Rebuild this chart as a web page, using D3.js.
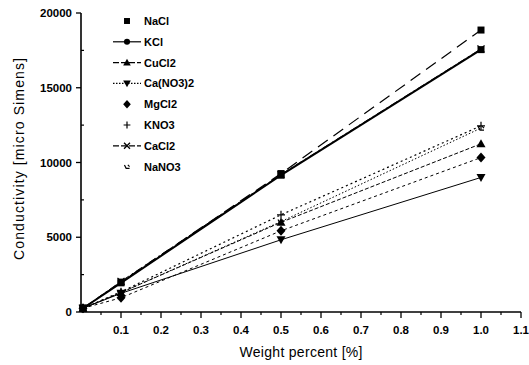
<!DOCTYPE html>
<html><head><meta charset="utf-8">
<script src="https://cdn.jsdelivr.net/npm/d3@7"></script>
<style>body{margin:0;background:#fff}svg{display:block}text{font-family:"Liberation Sans",Arial,sans-serif;fill:#000}</style>
</head><body><svg id="c" width="529" height="365"></svg>
<script>
const weights = [0.005, 0.1, 0.5, 1.0];
const seriesNames = ["NaCl","KCl","CuCl2","Ca(NO3)2","MgCl2","KNO3","CaCl2","NaNO3"];
const NaCl   = [250, 2000, 9260, 18860];
const KCl    = [250, 1950, 9150, 17550];
const CuCl2  = [250, 1300, 6000, 11250];
const CaNO32 = [250, 1250, 4830, 9000];
const MgCl2  = [250, 950, 5430, 10330];
const KNO3   = [250, 1350, 6500, 12450];
const CaCl2  = [250, 2050, 9200, 17600];
const NaNO3  = [250, 1300, 6050, 12300];
const xTicks = [0.1,0.2,0.3,0.4,0.5,0.6,0.7,0.8,0.9,1.0,1.1];
const yTicks = [0,5000,10000,15000,20000];

const values = [NaCl,KCl,CuCl2,CaNO32,MgCl2,KNO3,CaCl2,NaNO3];
const styles = [
  {dash:"12,7", w:1.2, sym:"square", legLine:false},
  {dash:null, w:2, sym:"square", legLine:true, legSym:"circle"},
  {dash:"4,2", w:1, sym:"triangle", legLine:true},
  {dash:null, w:1, sym:"triangleDown", legLine:true, legDash:"1.5,1.5"},
  {dash:"3,3", w:1, sym:"diamond", legLine:false},
  {dash:"2,3", w:1.2, sym:"plus", legLine:false},
  {dash:"8,3,2,3", w:1, sym:"x", legLine:true},
  {dash:"1.5,2", w:1, sym:"tick", legLine:false}
];

const svg = d3.select("#c");
const x = d3.scaleLinear().domain([0,1.1]).range([81,521]);
const y = d3.scaleLinear().domain([0,20000]).range([312,13]);

// axes
const gx = svg.append("g").attr("transform","translate(0,312)");
gx.append("line").attr("x1",x(0)).attr("x2",x(1.1)).attr("stroke","#000").attr("stroke-width",1.6);
gx.selectAll(".mj").data(xTicks).join("line").attr("x1",d=>x(d)).attr("x2",d=>x(d)).attr("y1",0).attr("y2",6).attr("stroke","#000").attr("stroke-width",1.3);
gx.selectAll(".mn").data(d3.range(0.05,1.1,0.1)).join("line").attr("x1",d=>x(d)).attr("x2",d=>x(d)).attr("y1",0).attr("y2",3).attr("stroke","#000").attr("stroke-width",1.2);
gx.selectAll("text").data(xTicks).join("text").attr("x",d=>x(d)).attr("y",22).attr("text-anchor","middle").attr("font-size",11.5).attr("font-weight","bold").text(d=>d3.format(".1f")(d));

const gy = svg.append("g").attr("transform","translate(81,0)");
gy.append("line").attr("y1",y(0)).attr("y2",y(20000)).attr("stroke","#000").attr("stroke-width",1.6);
gy.selectAll(".mj").data(yTicks).join("line").attr("x1",-5).attr("x2",0).attr("y1",d=>y(d)).attr("y2",d=>y(d)).attr("stroke","#000").attr("stroke-width",1.3);
gy.selectAll(".mn").data([2500,7500,12500,17500]).join("line").attr("x1",0).attr("x2",3).attr("y1",d=>y(d)).attr("y2",d=>y(d)).attr("stroke","#000").attr("stroke-width",1.2);
gy.selectAll("text").data(yTicks).join("text").attr("x",-9).attr("y",d=>y(d)+4).attr("text-anchor","end").attr("font-size",11.5).attr("font-weight","bold").text(d=>d);

svg.append("text").attr("transform","translate(24,159) rotate(-90)").attr("text-anchor","middle").attr("font-size",14)
  .attr("textLength",202).attr("lengthAdjust","spacing").text("Conductivity [micro Simens]");
svg.append("text").attr("x",301).attr("y",357).attr("text-anchor","middle").attr("font-size",14)
  .attr("textLength",123).attr("lengthAdjust","spacing").text("Weight percent [%]");

function drawSym(g, type, cx, cy, s){
  const k = s||1;
  if(type==="square") g.append("rect").attr("x",cx-3.5*k).attr("y",cy-3.5*k).attr("width",7*k).attr("height",7*k);
  else if(type==="circle") g.append("circle").attr("cx",cx).attr("cy",cy).attr("r",3.6*k);
  else if(type==="triangle") g.append("path").attr("d",`M${cx},${cy-4.5*k}L${cx+4.5*k},${cy+3.5*k}L${cx-4.5*k},${cy+3.5*k}Z`);
  else if(type==="triangleDown") g.append("path").attr("d",`M${cx},${cy+4.5*k}L${cx+4.5*k},${cy-3.5*k}L${cx-4.5*k},${cy-3.5*k}Z`);
  else if(type==="diamond") g.append("path").attr("d",`M${cx},${cy-5*k}L${cx+4.5*k},${cy}L${cx},${cy+5*k}L${cx-4.5*k},${cy}Z`);
  else if(type==="plus") g.append("path").attr("d",`M${cx-4*k},${cy}H${cx+4*k}M${cx},${cy-4*k}V${cy+4*k}`).attr("stroke","#000").attr("stroke-width",1.2).attr("fill","none");
  else if(type==="x") g.append("path").attr("d",`M${cx-3.5*k},${cy-3.5*k}L${cx+3.5*k},${cy+3.5*k}M${cx+3.5*k},${cy-3.5*k}L${cx-3.5*k},${cy+3.5*k}`).attr("stroke","#000").attr("stroke-width",1.3).attr("fill","none");
  else if(type==="tick") g.append("path").attr("d",`M${cx-3*k},${cy-2*k}L${cx-1*k},${cy+2*k}H${cx+3*k}M${cx+1*k},${cy-2*k}L${cx+3*k},${cy}`).attr("stroke","#000").attr("stroke-width",1.2).attr("fill","none");
}

const line = d3.line().x(d=>x(d[0])).y(d=>y(d[1]));
const plot = svg.append("g");
values.forEach((vals,i)=>{
  const st = styles[i];
  const pts = weights.map((w,j)=>[w,vals[j]]);
  plot.append("path").attr("d",line(pts)).attr("fill","none").attr("stroke","#000").attr("stroke-width",st.w).attr("stroke-dasharray",st.dash);
  const g = plot.append("g").attr("fill","#000");
  pts.forEach(p=>drawSym(g, st.sym, x(p[0]), y(p[1]), 1));
});

// legend
const lg = svg.append("g");
seriesNames.forEach((n,i)=>{
  const st = styles[i];
  const cy = 21 + i*20.8;
  if(st.legLine) lg.append("line").attr("x1",113).attr("x2",141).attr("y1",cy).attr("y2",cy).attr("stroke","#000").attr("stroke-width",1.2).attr("stroke-dasharray",st.legDash||(i===1?null:"6,2"));
  const g = lg.append("g").attr("fill","#000");
  drawSym(g, st.legSym||st.sym, 127, cy, 0.85);
  lg.append("text").attr("x",144).attr("y",cy+4).attr("font-size",11).attr("font-weight","bold").text(n);
});
</script></body></html>
